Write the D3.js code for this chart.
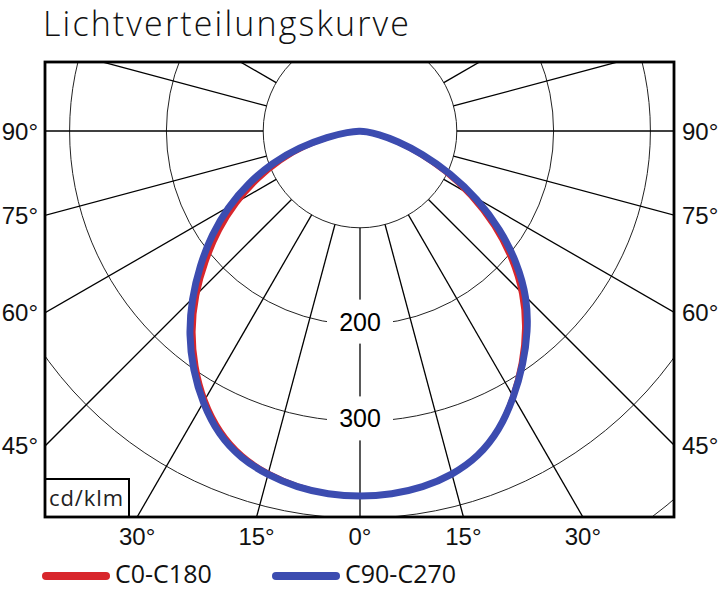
<!DOCTYPE html>
<html>
<head>
<meta charset="utf-8">
<script src="https://cdn.jsdelivr.net/npm/d3@7"></script>
<style>
  body { margin: 0; background: #fff; }
  svg { display: block; }
</style>
</head>
<body>
<svg id="lvk"></svg>
<script>
// gamma angles (degrees from straight down) and intensities in cd/klm
var gammas = [0, 5, 10, 15, 20, 25, 30, 35, 40, 45, 50, 55, 60, 65, 70, 75, 80, 85, 90];
var c0   = [378, 377, 374, 368, 358, 341, 317, 292, 266, 238, 205, 170, 133, 97, 63, 37, 17, 5, 0];
var c180 = [378, 377, 373, 367, 358, 343, 322, 297, 270, 240, 208, 178, 148, 117, 88, 59, 29, 10, 0];
var c90  = [378, 377, 374, 368, 358, 341, 318, 294, 270, 244, 212, 177, 140, 103, 68, 40, 19, 6, 0];
var c270 = [378, 377, 374, 368, 360, 346, 325, 301, 275, 246, 216, 187, 158, 127, 97, 65, 33, 12, 0];

var ringValues = [100, 200, 300, 400, 500];
var ringLabels = [200, 300];
var spokeAngles = d3.range(0, 360, 15);
var sideTicks = [90, 75, 60, 45];
var bottomTicks = [-30, -15, 0, 15, 30];
var seriesNames = ["C0-C180", "C90-C270"];
var seriesColors = ["#d8262c", "#3c4cb0"];

var width = 720, height = 590;
var frame = {left: 45, right: 674, top: 62, bottom: 517};
var cx = 360, cy = 131;   // polar centre

var svg = d3.select("#lvk")
    .attr("width", width)
    .attr("height", height);

var r = d3.scaleLinear().domain([0, 100]).range([0, 96.8]);
var rad = d3.scaleLinear().domain([0, 180]).range([0, Math.PI]);

// clip everything polar to the frame
svg.append("clipPath").attr("id", "frameClip")
    .append("rect")
    .attr("x", frame.left).attr("y", frame.top)
    .attr("width", frame.right - frame.left)
    .attr("height", frame.bottom - frame.top);

var plot = svg.append("g").attr("clip-path", "url(#frameClip)");
var g = plot.append("g").attr("transform", "translate(" + cx + "," + cy + ")");

// rings
g.selectAll(".ring")
    .data(ringValues)
    .enter().append("circle")
    .attr("r", d => r(d))
    .attr("fill", "none")
    .attr("stroke", "#222")
    .attr("stroke-width", 1);

// spokes, starting at the 100 ring (gamma measured from downward vertical)
g.selectAll(".spoke")
    .data(spokeAngles)
    .enter().append("line")
    .attr("x1", d => r(100) * Math.sin(rad(d)))
    .attr("y1", d => r(100) * Math.cos(rad(d)))
    .attr("x2", d => r(700) * Math.sin(rad(d)))
    .attr("y2", d => r(700) * Math.cos(rad(d)))
    .attr("stroke", "#000")
    .attr("stroke-width", 1.3);

// ring value labels on the 0 degree axis, with white knock-out
var lab = g.selectAll(".ringlab")
    .data(ringLabels)
    .enter().append("g")
    .attr("transform", d => "translate(0," + (r(d) - 3) + ")");
lab.append("rect")
    .attr("x", -33).attr("y", -22)
    .attr("width", 66).attr("height", 44)
    .attr("fill", "#fff");
lab.append("text")
    .attr("text-anchor", "middle")
    .attr("dy", "0.36em")
    .attr("font-family", "'Liberation Sans', Arial, sans-serif")
    .attr("font-size", 25)
    .text(d => d);

// curves: left half goes gamma 90 -> 0, right half 0 -> 85 (closed back to the origin)
function halves(left, right) {
    var pts = [];
    for (var i = gammas.length - 1; i >= 0; i--) pts.push([Math.PI + rad(gammas[i]), r(left[i])]);
    for (var j = 1; j < gammas.length - 1; j++) pts.push([Math.PI - rad(gammas[j]), r(right[j])]);
    return pts;
}
var radial = d3.lineRadial()
    .angle(d => d[0])
    .radius(d => d[1])
    .curve(d3.curveBasisClosed);   // smooths the read-off points, rounds the top

g.append("path")
    .attr("d", radial(halves(c180, c0)))
    .attr("fill", "none")
    .attr("stroke", seriesColors[0])
    .attr("stroke-width", 5)
    .attr("stroke-linejoin", "round");
g.append("path")
    .attr("d", radial(halves(c270, c90)))
    .attr("fill", "none")
    .attr("stroke", seriesColors[1])
    .attr("stroke-width", 7)
    .attr("stroke-linejoin", "round");

// unit box
svg.append("rect")
    .attr("x", frame.left).attr("y", 479)
    .attr("width", 84).attr("height", frame.bottom - 479)
    .attr("fill", "#fff").attr("stroke", "#000").attr("stroke-width", 2);
svg.append("text")
    .attr("x", 49).attr("y", 506)
    .attr("font-family", "'Open Sans', 'Noto Sans', sans-serif")
    .attr("font-size", 22)
    .attr("textLength", 74)
    .attr("fill", "#222")
    .text("cd/klm");

// frame
svg.append("rect")
    .attr("x", frame.left).attr("y", frame.top)
    .attr("width", frame.right - frame.left)
    .attr("height", frame.bottom - frame.top)
    .attr("fill", "none").attr("stroke", "#000").attr("stroke-width", 2.8);

// side angle labels where spokes meet the frame
var labelFont = "'Liberation Sans', Arial, Helvetica, sans-serif";
var dxSide = frame.right - cx;
sideTicks.forEach(function(a) {
    var y = cy + dxSide / Math.tan(rad(a));
    svg.append("text").attr("x", 38).attr("y", y).attr("dy", "0.36em")
        .attr("text-anchor", "end")
        .attr("font-family", labelFont).attr("font-size", 24)
        .attr("fill", "#111")
        .text(a + "°");
    svg.append("text").attr("x", 682).attr("y", y).attr("dy", "0.36em")
        .attr("font-family", labelFont).attr("font-size", 24)
        .attr("fill", "#111")
        .text(a + "°");
});

// bottom angle labels
var dyBottom = frame.bottom - cy;
svg.selectAll(".btick")
    .data(bottomTicks)
    .enter().append("text")
    .attr("x", d => cx + dyBottom * Math.tan(rad(d)))
    .attr("y", 545)
    .attr("text-anchor", "middle")
    .attr("font-family", labelFont).attr("font-size", 24)
    .attr("fill", "#111")
    .text(d => Math.abs(d) + "°");

// title
svg.append("text")
    .attr("x", 43).attr("y", 36)
    .attr("font-family", "'Open Sans', 'Noto Sans', sans-serif")
    .attr("font-weight", 300)
    .attr("font-size", 34)
    .attr("textLength", 366)
    .attr("fill", "#111")
    .text("Lichtverteilungskurve");

// legend
var legX = [46, 276];
var leg = svg.selectAll(".leg")
    .data(seriesNames)
    .enter().append("g")
    .attr("transform", (d, i) => "translate(" + legX[i] + ",576)");
leg.append("line")
    .attr("x1", 0).attr("x2", 60)
    .attr("stroke", (d, i) => seriesColors[i])
    .attr("stroke-width", 8)
    .attr("stroke-linecap", "round");
leg.append("text")
    .attr("x", 69).attr("y", 7)
    .attr("font-family", "'Open Sans', 'Noto Sans', sans-serif")
    .attr("font-size", 25)
    .attr("fill", "#111")
    .text(d => d);
</script>
</body>
</html>
